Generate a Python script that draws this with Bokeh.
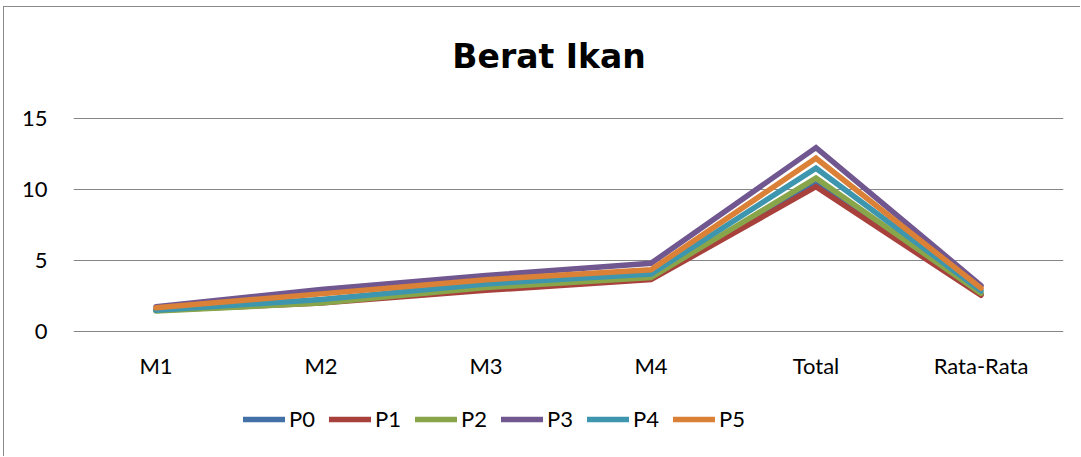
from bokeh.plotting import figure
from bokeh.models import FactorRange, Range1d, FixedTicker, Legend, LegendItem, Label, ColumnDataSource
from bokeh.core.properties import value
from bokeh.embed import file_html
from bokeh.resources import INLINE

categories = ["M1", "M2", "M3", "M4", "Total", "Rata-Rata"]
P0 = [1.5, 2.1, 3.1, 3.8, 10.5, 2.62]
P1 = [1.5, 2.0, 2.9, 3.65, 10.2, 2.55]
P2 = [1.45, 2.0, 3.1, 3.8, 10.8, 2.7]
P3 = [1.75, 2.95, 3.95, 4.8, 12.95, 3.24]
P4 = [1.5, 2.25, 3.35, 4.05, 11.5, 2.87]
P5 = [1.67, 2.65, 3.65, 4.35, 12.2, 3.05]
series_names = ["P0", "P1", "P2", "P3", "P4", "P5"]
series_values = [P0, P1, P2, P3, P4, P5]
colors = ["#4470A8", "#A8403C", "#89A54A", "#70578F", "#3D96AE", "#DA8137"]
y_ticks = [0, 5, 10, 15]
title_text = "Berat Ikan"

FONT = "Lato"
GRID = "#868686"

# pixel layout: 14.2 px per unit, 0 at y=331; frame spans y=7..457
px_per_unit = 71 / 5
y_min = -(457 - 331) / px_per_unit
y_max = (331 - 7) / px_per_unit

p = figure(width=1077, height=450, x_range=FactorRange(*categories, range_padding=0),
           y_range=Range1d(y_min, y_max), output_backend="svg", toolbar_location=None,
           min_border_left=69, min_border_right=18, min_border_top=0, min_border_bottom=0)
p.x_range.factor_padding = 0
p.outline_line_color = None
p.background_fill_color = "white"
p.border_fill_color = "white"
p.styles = {"margin-left": "3px", "margin-top": "6px",
            "border-left": "1px solid #8a8a8a", "border-top": "1px solid #8a8a8a"}

# chart title, placed above the plotting area
p.add_layout(Label(x=2.882, y=(331 - 56) / px_per_unit, text=title_text,
                   text_align="center", text_baseline="alphabetic",
                   text_font="DejaVu Sans", text_font_size="33px",
                   text_font_style="bold", text_color="#000000"))

p.xaxis.visible = False
p.yaxis.ticker = FixedTicker(ticks=y_ticks)
p.yaxis.axis_line_color = None
p.yaxis.major_tick_line_color = None
p.yaxis.minor_tick_line_color = None
p.yaxis.major_tick_out = 0
p.yaxis.major_label_standoff = 26
p.yaxis.major_label_text_font = FONT
p.yaxis.major_label_text_font_size = "22px"
p.yaxis.major_label_text_color = "#000000"

p.xgrid.grid_line_color = None
p.ygrid.ticker = FixedTicker(ticks=y_ticks)
p.ygrid.grid_line_color = GRID
p.ygrid.grid_line_width = 1

# category labels under the baseline
lab = ColumnDataSource(dict(x=categories, y=[0] * len(categories), t=categories))
p.text(x="x", y="y", text="t", source=lab, y_offset=34, text_align="center",
       text_baseline="middle", text_font=value(FONT), text_font_size="22px",
       text_color="#000000")

items = []
for name, vals, c in zip(series_names, series_values, colors):
    r = p.line(categories, vals, line_color=c, line_width=5.5,
               line_join="miter", line_cap="round")
    items.append(LegendItem(label=name, renderers=[r]))

legend = Legend(items=items, orientation="horizontal", location=(170, 25),
                glyph_width=42, glyph_height=20, label_height=20, label_standoff=4,
                spacing=14, padding=0, margin=0, border_line_color=None,
                background_fill_alpha=0, label_text_font=FONT,
                label_text_font_size="22px", label_text_color="#000000")
p.add_layout(legend, "center")

open("out.html", "w").write(file_html(p, INLINE))
